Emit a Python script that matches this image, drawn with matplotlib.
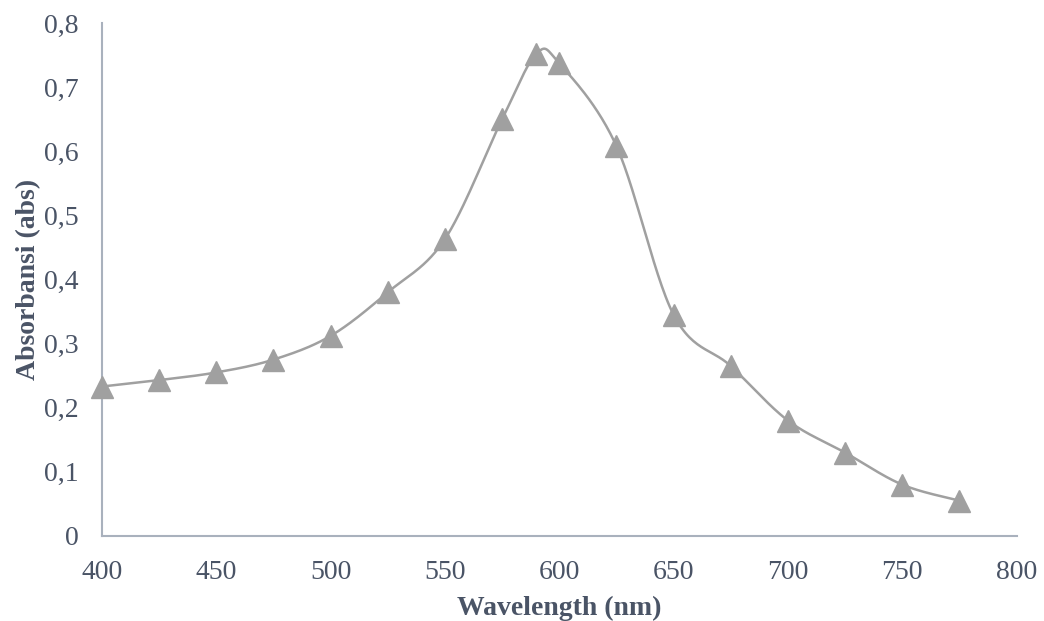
import matplotlib
matplotlib.use('Agg')
import matplotlib.pyplot as plt
from matplotlib.ticker import FuncFormatter
import numpy as np

# data
wavelength = [400, 425, 450, 475, 500, 525, 550, 575, 590, 600, 625, 650, 675, 700, 725, 750, 775]
absorbansi = [0.233, 0.243, 0.255, 0.275, 0.312, 0.380, 0.463, 0.650, 0.752, 0.737, 0.608, 0.345, 0.265, 0.180, 0.130, 0.080, 0.055]

plt.rcParams['font.family'] = ['Liberation Serif', 'DejaVu Serif']
text_color = '#4a5466'
spine_color = '#a9b1bd'
line_color = '#a0a0a0'

fig = plt.figure(figsize=(10.44, 6.21), dpi=100)
ax = fig.add_axes([0.0977, 0.137, 0.876, 0.826])
ax.set_xlim(400, 800)
ax.set_ylim(0, 0.8)


def smooth_curve(xs, ys, sx, sy, n=30):
    # excel-like smoothing: bezier segments with catmull-rom control points
    p = np.column_stack([np.array(xs) * sx, np.array(ys) * sy])
    out = []
    for i in range(len(p) - 1):
        p0 = p[i - 1] if i > 0 else p[i]
        p1 = p[i]
        p2 = p[i + 1]
        p3 = p[i + 2] if i + 2 < len(p) else p[i + 1]
        c1 = p1 + (p2 - p0) / 6
        c2 = p2 - (p3 - p1) / 6
        t = np.linspace(0, 1, n)[:, None]
        seg = (1 - t) ** 3 * p1 + 3 * (1 - t) ** 2 * t * c1 + 3 * (1 - t) * t ** 2 * c2 + t ** 3 * p2
        out.append(seg if i == 0 else seg[1:])
    out = np.vstack(out)
    return out[:, 0] / sx, out[:, 1] / sy


cx, cy = smooth_curve(wavelength, absorbansi, 913 / 400, 514 / 0.8)
ax.plot(cx, cy, color=line_color, lw=1.8, zorder=2)
ax.plot(wavelength, absorbansi, linestyle='none', marker='^', markersize=15.5,
        color=line_color, zorder=3, clip_on=False)

ax.set_xticks(np.arange(400, 801, 50))
ax.set_yticks(np.arange(0, 0.81, 0.1))
ax.yaxis.set_major_formatter(FuncFormatter(lambda v, _: '0' if abs(v) < 1e-9 else f'{v:.1f}'.replace('.', ',')))
ax.tick_params(length=0, labelsize=20, labelcolor=text_color)
ax.tick_params(axis='y', pad=17)
ax.tick_params(axis='x', pad=17)

for side in ['top', 'right']:
    ax.spines[side].set_visible(False)
for side in ['left', 'bottom']:
    ax.spines[side].set_color(spine_color)
    ax.spines[side].set_linewidth(1.5)

ax.set_xlabel('Wavelength (nm)', fontsize=20, fontweight='bold', color=text_color, labelpad=8)
ax.set_ylabel('Absorbansi (abs)', fontsize=20, fontweight='bold', color=text_color)
ax.yaxis.set_label_coords(-0.067, 0.5)

fig.savefig('out.png', dpi=100)
